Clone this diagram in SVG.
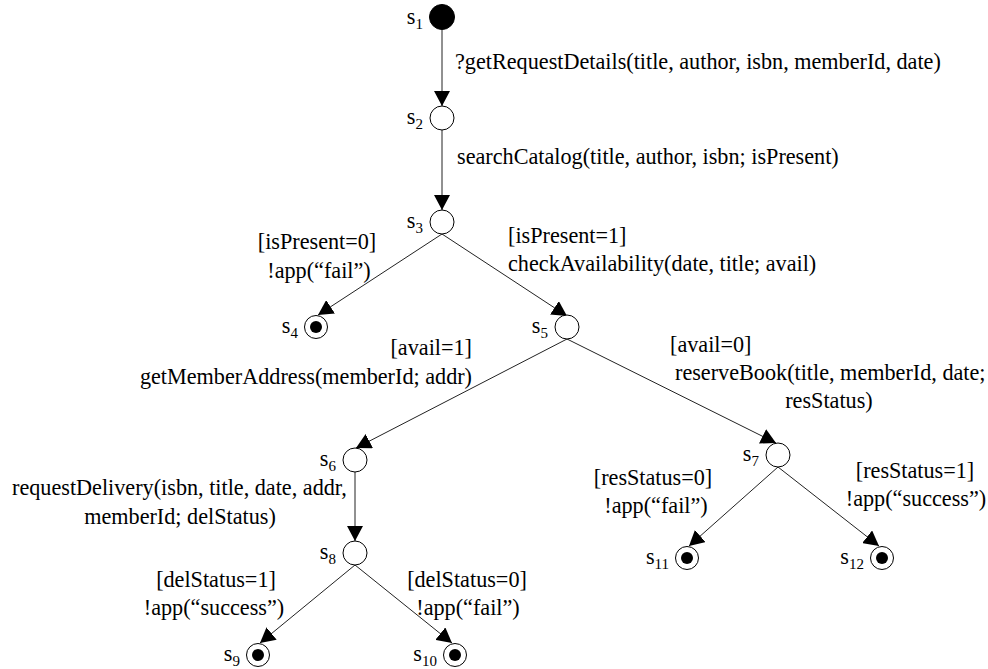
<svg xmlns="http://www.w3.org/2000/svg" width="988" height="669" viewBox="0 0 988 669">
  <style>
    .st { fill: #fff; stroke: #000; stroke-width: 1; }
    .init { fill: #000; stroke: #000; }
    .dot { fill: #000; }
    .edge { stroke: #222; stroke-width: 1; fill: none; marker-end: url(#arrow); }
    text { font-family: "Liberation Serif", "Times New Roman", serif; font-size: 22.2px; fill: #000; }
    .sub { font-size: 15px; }
    .name { text-anchor: end; }
    .mid { text-anchor: middle; }
    .end { text-anchor: end; }
  </style>
  <defs>
    <marker id="arrow" markerUnits="userSpaceOnUse" markerWidth="15" markerHeight="16" refX="15" refY="8" orient="auto">
      <path d="M0,0 L15,8 L0,16 Z" fill="#000"/>
    </marker>
  </defs>

  <!-- transitions -->
  <g id="connectors">
    <line class="edge" x1="442" y1="30" x2="442" y2="106"/>
    <line class="edge" x1="442" y1="130" x2="442" y2="210"/>
    <line class="edge" x1="442" y1="234" x2="318" y2="315"/>
    <line class="edge" x1="442" y1="234" x2="567" y2="316"/>
    <line class="edge" x1="567" y1="339" x2="356" y2="448"/>
    <line class="edge" x1="567" y1="339" x2="776" y2="443"/>
    <line class="edge" x1="355" y1="472" x2="355" y2="541"/>
    <line class="edge" x1="778" y1="467" x2="689" y2="546"/>
    <line class="edge" x1="778" y1="467" x2="879" y2="546"/>
    <line class="edge" x1="355" y1="565" x2="260" y2="643"/>
    <line class="edge" x1="355" y1="565" x2="452" y2="643"/>
  </g>

  <!-- transition labels -->
  <g id="labels">
    <text x="455" y="69">?getRequestDetails(title, author, isbn, memberId, date)</text>
    <text x="457" y="164">searchCatalog(title, author, isbn; isPresent)</text>
    <text class="mid" x="317" y="249">[isPresent=0]</text>
    <text class="mid" x="319" y="278">!app(“fail”)</text>
    <text x="508" y="243">[isPresent=1]</text>
    <text x="508" y="271">checkAvailability(date, title; avail)</text>
    <text class="end" x="472" y="355">[avail=1]</text>
    <text class="end" x="472" y="384">getMemberAddress(memberId; addr)</text>
    <text x="670" y="352">[avail=0]</text>
    <text x="675" y="380">reserveBook(title, memberId, date;</text>
    <text class="mid" x="829" y="408">resStatus)</text>
    <text x="12" y="495">requestDelivery(isbn, title, date, addr,</text>
    <text class="mid" x="180" y="524">memberId; delStatus)</text>
    <text class="mid" x="653" y="485">[resStatus=0]</text>
    <text class="mid" x="656" y="513">!app(“fail”)</text>
    <text class="mid" x="915" y="478">[resStatus=1]</text>
    <text class="mid" x="916" y="506">!app(“success”)</text>
    <text class="mid" x="216" y="587">[delStatus=1]</text>
    <text class="mid" x="214" y="615">!app(“success”)</text>
    <text class="mid" x="467" y="587">[delStatus=0]</text>
    <text class="mid" x="468" y="615">!app(“fail”)</text>
  </g>

  <!-- states -->
  <g id="s1">
    <circle class="init" cx="442" cy="17" r="12.5"/>
    <text class="name" x="423" y="24">s<tspan class="sub" dy="5">1</tspan></text>
  </g>
  <g id="s2">
    <circle class="st" cx="442" cy="118" r="12"/>
    <text class="name" x="423" y="124">s<tspan class="sub" dy="5">2</tspan></text>
  </g>
  <g id="s3">
    <circle class="st" cx="442" cy="222" r="12"/>
    <text class="name" x="423" y="228">s<tspan class="sub" dy="5">3</tspan></text>
  </g>
  <g id="s4">
    <circle class="st" cx="316" cy="327" r="11.5"/>
    <circle class="dot" cx="316" cy="327" r="6"/>
    <text class="name" x="298" y="333">s<tspan class="sub" dy="5">4</tspan></text>
  </g>
  <g id="s5">
    <circle class="st" cx="567" cy="327" r="12"/>
    <text class="name" x="548" y="333">s<tspan class="sub" dy="5">5</tspan></text>
  </g>
  <g id="s6">
    <circle class="st" cx="355" cy="460" r="12"/>
    <text class="name" x="336" y="466">s<tspan class="sub" dy="5">6</tspan></text>
  </g>
  <g id="s7">
    <circle class="st" cx="778" cy="455" r="12"/>
    <text class="name" x="759" y="461">s<tspan class="sub" dy="5">7</tspan></text>
  </g>
  <g id="s8">
    <circle class="st" cx="355" cy="553" r="12"/>
    <text class="name" x="336" y="559">s<tspan class="sub" dy="5">8</tspan></text>
  </g>
  <g id="s9">
    <circle class="st" cx="258" cy="655" r="11.5"/>
    <circle class="dot" cx="258" cy="655" r="6"/>
    <text class="name" x="240" y="661">s<tspan class="sub" dy="5">9</tspan></text>
  </g>
  <g id="s10">
    <circle class="st" cx="455" cy="655" r="11.5"/>
    <circle class="dot" cx="455" cy="655" r="6"/>
    <text class="name" x="437" y="661">s<tspan class="sub" dy="5">10</tspan></text>
  </g>
  <g id="s11">
    <circle class="st" cx="687" cy="558" r="11.5"/>
    <circle class="dot" cx="687" cy="558" r="6"/>
    <text class="name" x="669" y="564">s<tspan class="sub" dy="5">11</tspan></text>
  </g>
  <g id="s12">
    <circle class="st" cx="882" cy="558" r="11.5"/>
    <circle class="dot" cx="882" cy="558" r="6"/>
    <text class="name" x="864" y="564">s<tspan class="sub" dy="5">12</tspan></text>
  </g>
</svg>
